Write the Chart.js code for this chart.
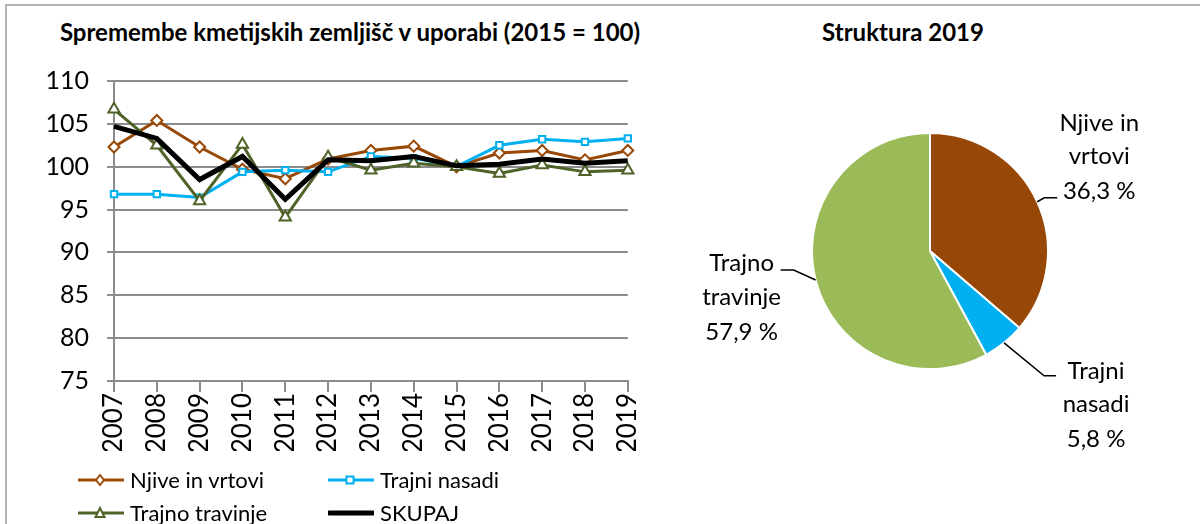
<!DOCTYPE html>
<html>
<head>
<meta charset="utf-8">
<script src="https://cdn.jsdelivr.net/npm/chart.js@4"></script>
<style>
    html, body { margin: 0; padding: 0; background: #fff; }
    #wrap { position: relative; width: 1200px; height: 524px; overflow: hidden; font-family: Lato, 'Noto Sans', sans-serif; color: #000; }
    #frame { position: absolute; left: 5px; top: 4px; right: -10px; bottom: -10px; border-left: 2px solid #b4b4b4; border-top: 2px solid #b4b4b4; }
    .title { position: absolute; top: 17px; font-weight: bold; font-size: 24px; line-height: 30px; white-space: nowrap; transform: translateX(-50%); }
    #lineBox { position: absolute; left: 0; top: 0; width: 660px; height: 524px; }
    #pieBox { position: absolute; left: 660px; top: 0; width: 540px; height: 524px; }
    .leg { position: absolute; display: flex; align-items: center; font-size: 22px; white-space: nowrap; }
    .leg svg { margin-right: 6px; }
</style>
</head>
<body>
<div id="wrap">
    <div id="frame"></div>
    <div class="title" style="left:350px">Spremembe kmetijskih zemljišč v uporabi (2015 = 100)</div>
    <div class="title" style="left:903px">Struktura 2019</div>
    <div id="lineBox"><canvas id="lineChart"></canvas></div>
    <div id="pieBox"><canvas id="pieChart"></canvas></div>
    <div id="legend"></div>
</div>
<script>
const years = ['2007', '2008', '2009', '2010', '2011', '2012', '2013', '2014', '2015', '2016', '2017', '2018', '2019'];
const njive = [102.3, 105.4, 102.3, 99.7, 98.6, 100.9, 101.9, 102.4, 100.0, 101.6, 101.9, 100.8, 101.9];
const trajniNasadi = [96.8, 96.8, 96.4, 99.4, 99.6, 99.4, 101.2, 101.0, 100.0, 102.5, 103.2, 102.9, 103.3];
const trajnoTravinje = [106.7, 102.5, 96.0, 102.6, 94.1, 101.1, 99.6, 100.4, 100.0, 99.2, 100.2, 99.4, 99.6];
const skupaj = [104.7, 103.3, 98.5, 101.2, 96.2, 100.8, 100.7, 101.2, 100.1, 100.3, 100.9, 100.4, 100.7];
const seriesNames = ['Njive in vrtovi', 'Trajni nasadi', 'Trajno travinje', 'SKUPAJ'];
const yTicks = [75, 80, 85, 90, 95, 100, 105, 110];

const pieLabels = ['Njive in vrtovi', 'Trajni nasadi', 'Trajno travinje'];
const pieShares = [36.3, 5.8, 57.9];

const colors = {
    brown: '#984807',
    cyan: '#00b0f0',
    darkGreen: '#4f6228',
    black: '#000000',
    pieBrown: '#974706',
    pieCyan: '#00b0f0',
    pieGreen: '#9bbb59',
    grid: '#8c8c8c'
};

const fontFamily = "Lato, 'Noto Sans', sans-serif";

const lineStyles = [
    { color: colors.brown, width: 3, point: 'rectRot', radius: 5.5, order: 3 },
    { color: colors.cyan, width: 3, point: 'rect', radius: 4.5, order: 2 },
    { color: colors.darkGreen, width: 3, point: 'triangle', radius: 6.5, order: 1 },
    { color: colors.black, width: 5, point: false, radius: 0, order: 0 }
];
const lineValues = [njive, trajniNasadi, trajnoTravinje, skupaj];

new Chart(document.getElementById('lineChart'), {
    type: 'line',
    data: {
        labels: years,
        datasets: lineValues.map((values, i) => ({
            label: seriesNames[i],
            data: values,
            borderColor: lineStyles[i].color,
            borderWidth: lineStyles[i].width,
            pointStyle: lineStyles[i].point,
            pointRadius: lineStyles[i].radius,
            pointBackgroundColor: '#ffffff',
            pointBorderColor: lineStyles[i].color,
            pointBorderWidth: 2,
            tension: 0,
            order: lineStyles[i].order
        }))
    },
    options: {
        responsive: true,
        maintainAspectRatio: false,
        animation: false,
        layout: { padding: { left: 0, top: 81, right: 32, bottom: 73 } },
        plugins: { legend: { display: false }, tooltip: { enabled: false } },
        scales: {
            x: {
                offset: false,
                grid: { drawOnChartArea: false, drawTicks: true, tickLength: 11, color: colors.grid, lineWidth: 2 },
                border: { display: true, color: colors.grid, width: 2 },
                ticks: { color: '#000', font: { family: fontFamily, size: 26 }, minRotation: 90, maxRotation: 90, padding: 1, autoSkip: false },
                afterFit: (scale) => { scale.height = 70; }
            },
            y: {
                min: 75,
                max: 110,
                afterBuildTicks: (scale) => { scale.ticks = yTicks.map((v) => ({ value: v })); },
                grid: { color: colors.grid, lineWidth: 2, tickLength: 7 },
                border: { display: true, color: colors.grid, width: 2 },
                ticks: { color: '#000', font: { family: fontFamily, size: 25 }, padding: 18 },
                afterFit: (scale) => { scale.width = 114; }
            }
        }
    }
});

// leader line + text placement, relative to the slice edge point
const pieLabelLayout = [
    { elbow: [7, -4], end: [20, -4], textX: 62, lineY: [-79, -46, -11] },
    { elbow: [40, 33], end: [52, 33], textX: 92, lineY: [28, 61, 96] },
    { elbow: [-22, -10], end: [-35, -10], textX: -74, lineY: [-17, 17, 52] }
];

const pieLabelPlugin = {
    id: 'pieLabels',
    afterDatasetsDraw(chart) {
        const ctx = chart.ctx;
        const arcs = chart.getDatasetMeta(0).data;
        ctx.save();
        arcs.forEach((arc, i) => {
            const mid = (arc.startAngle + arc.endAngle) / 2;
            const ex = arc.x + Math.cos(mid) * arc.outerRadius;
            const ey = arc.y + Math.sin(mid) * arc.outerRadius;
            const lay = pieLabelLayout[i];
            ctx.strokeStyle = '#000';
            ctx.lineWidth = 1.5;
            ctx.beginPath();
            ctx.moveTo(ex, ey);
            ctx.lineTo(ex + lay.elbow[0], ey + lay.elbow[1]);
            ctx.lineTo(ex + lay.end[0], ey + lay.end[1]);
            ctx.stroke();

            const name = pieLabels[i];
            const cut = name.lastIndexOf(' ');
            const lines = [name.slice(0, cut), name.slice(cut + 1), pieShares[i].toFixed(1).replace('.', ',') + ' %'];
            ctx.fillStyle = '#000';
            ctx.font = `24px ${fontFamily}`;
            ctx.textAlign = 'center';
            ctx.textBaseline = 'middle';
            lines.forEach((text, k) => {
                ctx.fillText(text, ex + lay.textX, ey + lay.lineY[k]);
            });
        });
        ctx.restore();
    }
};

new Chart(document.getElementById('pieChart'), {
    type: 'pie',
    data: {
        labels: pieLabels,
        datasets: [{
            data: pieShares,
            backgroundColor: [colors.pieBrown, colors.pieCyan, colors.pieGreen],
            borderColor: '#ffffff',
            borderWidth: 2
        }]
    },
    options: {
        responsive: true,
        maintainAspectRatio: false,
        animation: false,
        layout: { padding: { left: 40, right: 40, top: 132, bottom: 154 } },
        plugins: { legend: { display: false }, tooltip: { enabled: false } }
    },
    plugins: [pieLabelPlugin]
});

// legend below the line chart
const legendSpots = [[78, 466], [328, 466], [78, 499], [328, 499]];
const legendMarker = (i) => {
    const s = lineStyles[i];
    let m = '';
    if (s.point === 'rectRot') m = `<path d="M22 6 L26 11 L22 16 L18 11 Z" fill="#fff" stroke="${s.color}" stroke-width="2"/>`;
    if (s.point === 'rect') m = `<rect x="18.5" y="7.5" width="7" height="7" fill="#fff" stroke="${s.color}" stroke-width="2"/>`;
    if (s.point === 'triangle') m = `<path d="M22 6 L26.5 15 L17.5 15 Z" fill="#fff" stroke="${s.color}" stroke-width="2"/>`;
    return `<svg width="46" height="22"><line x1="1" y1="11" x2="45" y2="11" stroke="${s.color}" stroke-width="${s.width}" stroke-linecap="round"/>${m}</svg>`;
};
document.getElementById('legend').innerHTML = seriesNames.map((name, i) =>
    `<div class="leg" style="left:${legendSpots[i][0]}px;top:${legendSpots[i][1]}px">${legendMarker(i)}<span>${name}</span></div>`
).join('');
</script>
</body>
</html>
